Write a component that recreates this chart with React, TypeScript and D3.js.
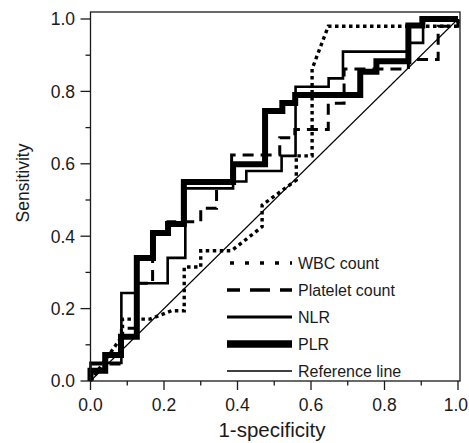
import * as d3 from "d3";

// ROC curves, [1-specificity, sensitivity] corner points
const wbc: [number, number][] = [
  [0, 0], [0.087, 0.125], [0.087, 0.171], [0.162, 0.171], [0.22, 0.194], [0.255, 0.194],
  [0.255, 0.315], [0.3, 0.315], [0.3, 0.36], [0.384, 0.36], [0.467, 0.426],
  [0.467, 0.486], [0.56, 0.555], [0.56, 0.622], [0.603, 0.622], [0.603, 0.862],
  [0.647, 0.98], [1, 0.98], [1, 1],
];

const platelet: [number, number][] = [
  [0, 0], [0, 0.047], [0.084, 0.047], [0.084, 0.146], [0.126, 0.146], [0.126, 0.27],
  [0.169, 0.27], [0.169, 0.409], [0.211, 0.409], [0.211, 0.44], [0.3, 0.44],
  [0.3, 0.477], [0.343, 0.477], [0.343, 0.55], [0.384, 0.55], [0.384, 0.624],
  [0.515, 0.624], [0.515, 0.672], [0.556, 0.672], [0.556, 0.695], [0.647, 0.695],
  [0.647, 0.767], [0.69, 0.767], [0.69, 0.862], [0.865, 0.862], [0.865, 0.888],
  [0.946, 0.888], [0.946, 0.98], [1, 0.98], [1, 1],
];

const nlr: [number, number][] = [
  [0, 0], [0, 0.05], [0.084, 0.05], [0.084, 0.243], [0.126, 0.243], [0.126, 0.27],
  [0.21, 0.27], [0.21, 0.34], [0.258, 0.34], [0.258, 0.532], [0.388, 0.532],
  [0.388, 0.551], [0.424, 0.551], [0.424, 0.58], [0.52, 0.58], [0.52, 0.622],
  [0.558, 0.622], [0.558, 0.813], [0.648, 0.813], [0.648, 0.836], [0.687, 0.836],
  [0.687, 0.91], [0.862, 0.91], [0.862, 0.934], [0.905, 0.934], [0.905, 1], [1, 1],
];

const plr: [number, number][] = [
  [0, 0], [0, 0.028], [0.04, 0.028], [0.04, 0.072], [0.083, 0.072], [0.083, 0.122],
  [0.126, 0.122], [0.126, 0.34], [0.17, 0.34], [0.17, 0.409], [0.211, 0.409],
  [0.211, 0.434], [0.254, 0.434], [0.254, 0.55], [0.388, 0.55], [0.388, 0.599],
  [0.475, 0.599], [0.475, 0.746], [0.522, 0.746], [0.522, 0.768], [0.557, 0.768],
  [0.557, 0.79], [0.734, 0.79], [0.734, 0.854], [0.778, 0.854], [0.778, 0.883],
  [0.865, 0.883], [0.865, 0.982], [0.903, 0.982], [0.903, 1], [1, 1],
];

const reference: [number, number][] = [[0, 0], [1, 1]];

const tickLabels = ["0.0", "0.2", "0.4", "0.6", "0.8", "1.0"];
const legendLabels = ["WBC count", "Platelet count", "NLR", "PLR", "Reference line"];

const font = "'Liberation Sans', Arial, Helvetica, sans-serif";
const ink = "#1a1a1a";

export default function App() {
  const x = d3.scaleLinear().domain([0, 1]).range([90.5, 458]);
  const y = d3.scaleLinear().domain([0, 1]).range([381, 19]);
  const line = d3.line<[number, number]>().x(d => x(d[0])).y(d => y(d[1]));

  const series = [
    { data: wbc, width: 3.4, dash: "3.5,3.5", legendDash: "4,11", offset: 12 },
    { data: platelet, width: 3, dash: "11,7", legendDash: "20,10", offset: 7 },
    { data: nlr, width: 2.6, dash: null, legendDash: null, offset: 0 },
    { data: plr, width: 6, dash: null, legendDash: null, offset: 0 },
    { data: reference, width: 1.1, dash: null, legendDash: null, offset: 0 },
  ];
  const legendWidths = [3.6, 3.6, 3, 7.5, 1.3];
  const drawOrder = [4, 0, 1, 2, 3];
  const ticks = x.ticks(10);
  const majors = ticks.filter((_, i) => i % 2 === 0);

  return (
    <svg width={469} height={443} style={{ position: "absolute", left: 0, top: 0 }}
      fontFamily={font}>
      <rect x={0} y={0} width={469} height={443} fill="#fff" />

      {drawOrder.map(i => (
        <path key={i} d={line(series[i].data) ?? ""} fill="none" stroke="#000"
          strokeWidth={series[i].width} strokeDasharray={series[i].dash ?? undefined}
          strokeLinejoin="miter" strokeLinecap="butt" />
      ))}

      {/* frame */}
      <rect x={x(0)} y={12} width={460 - x(0)} height={y(0) - 12} fill="none"
        stroke={ink} strokeWidth={1.3} />

      {/* x ticks */}
      {ticks.map((t, i) => (
        <line key={"xt" + i} x1={x(t)} x2={x(t)} y1={y(0)} y2={y(0) + (i % 2 === 0 ? 9 : 4.5)}
          stroke={ink} strokeWidth={1.3} />
      ))}
      {majors.map((t, i) => {
        const last = i === majors.length - 1;
        return (
          <text key={"xl" + i} x={last ? 468 : x(t)} y={411} textAnchor={last ? "end" : "middle"}
            fontSize={17.5} fill={ink}>
            {tickLabels[i]}
          </text>
        );
      })}

      {/* y ticks */}
      {ticks.map((t, i) => (
        <line key={"yt" + i} x1={x(0) - (i % 2 === 0 ? 10 : 5)} x2={x(0)} y1={y(t)} y2={y(t)}
          stroke={ink} strokeWidth={1.3} />
      ))}
      {majors.map((t, i) => (
        <text key={"yl" + i} x={75} y={y(t)} dy="0.36em" textAnchor="end" fontSize={17.5} fill={ink}>
          {tickLabels[i]}
        </text>
      ))}

      <text x={272} y={437} textAnchor="middle" fontSize={20.5} fill={ink}>1-specificity</text>
      <text transform="translate(29,183) rotate(-90)" textAnchor="middle" fontSize={17.5} fill={ink}>
        Sensitivity
      </text>

      {/* legend */}
      {legendLabels.map((label, i) => {
        const ly = 263 + i * 27;
        return (
          <g key={label}>
            <line x1={227} x2={292} y1={ly} y2={ly} stroke="#000" strokeWidth={legendWidths[i]}
              strokeDasharray={series[i].legendDash ?? undefined}
              strokeDashoffset={series[i].offset} />
            <text x={298} y={ly} dy="0.36em" fontSize={16} fill={ink}>{label}</text>
          </g>
        );
      })}
    </svg>
  );
}
